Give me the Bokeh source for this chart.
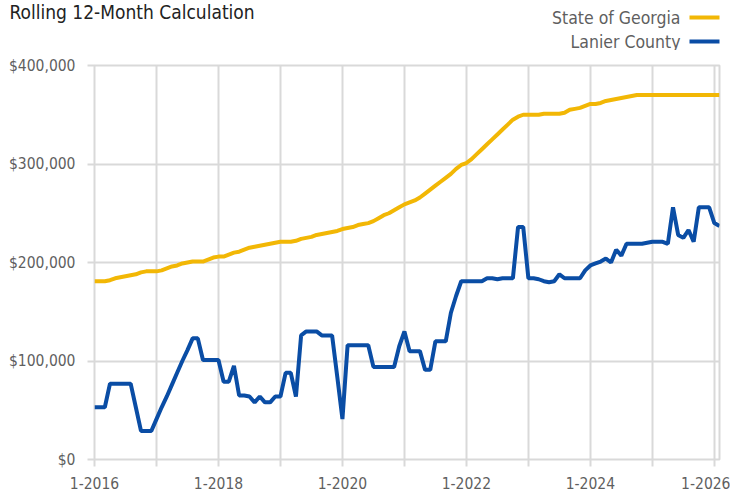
from bokeh.plotting import figure
from bokeh.layouts import column
from bokeh.models import FixedTicker, Label, NumeralTickFormatter
from bokeh.embed import file_html
from bokeh.resources import INLINE

FONT = "DejaVu Sans Condensed"

start_year = 2016
georgia = [
    181, 181, 181, 182, 184, 185, 186, 187, 188, 190, 191, 191,
    191, 192, 194, 196, 197, 199, 200, 201, 201, 201, 203, 205,
    206, 206, 208, 210, 211, 213, 215, 216, 217, 218, 219, 220,
    221, 221, 221, 222, 224, 225, 226, 228, 229, 230, 231, 232,
    234, 235, 236, 238, 239, 240, 242, 245, 248, 250, 253, 256,
    259, 261, 263, 266, 270, 274, 278, 282, 286, 290, 295, 299,
    301, 305, 310, 315, 320, 325, 330, 335, 340, 345, 348, 350,
    350, 350, 350, 351, 351, 351, 351, 352, 355, 356, 357, 359,
    361, 361, 362, 364, 365, 366, 367, 368, 369, 370, 370, 370,
    370, 370, 370, 370, 370, 370, 370, 370, 370, 370, 370, 370,
    370, 370,
]
lanier = [
    53, 53, 53, 77, 77, 77, 77, 77, 53, 29, 29, 29,
    41, 53, 64, 76, 88, 100, 111, 123, 123, 101, 101, 101,
    101, 79, 79, 95, 65, 65, 64, 58, 64, 58, 58, 64,
    64, 88, 88, 64, 126, 130, 130, 130, 126, 126, 126, 84,
    41, 116, 116, 116, 116, 116, 94, 94, 94, 94, 94, 115,
    130, 110, 110, 110, 91, 91, 120, 120, 120, 149, 166, 181,
    181, 181, 181, 181, 184, 184, 183, 184, 184, 184, 236, 236,
    184, 184, 183, 181, 180, 181, 188, 184, 184, 184, 184, 192,
    197, 199, 201, 204, 200, 213, 207, 219, 219, 219, 219, 220,
    221, 221, 221, 219, 256, 228, 225, 233, 221, 256, 256, 256,
    240, 237,
]
series_names = ["State of Georgia", "Lanier County"]
title_text = "Rolling 12-Month Calculation"
year_ticks = list(range(2016, 2027))
tick_labels = {y: (f"1-{y}" if y % 2 == 0 else "") for y in year_ticks}
y_ticks = [0, 100000, 200000, 300000, 400000]

x = [start_year + i / 12 for i in range(len(georgia))]
g_vals = [v * 1000 for v in georgia]
l_vals = [v * 1000 for v in lanier]

GRID = "#d9d9d9"
GOLD = "#F2B705"
BLUE = "#0A4DA5"
TEXT = "#5f5f5f"

# ---- header (title + legend) ----
W = 730
HH = 50
h = figure(width=W, height=HH, output_backend="svg", toolbar_location=None,
           x_range=(0, W), y_range=(0, HH), min_border=0,
           x_axis_location=None, y_axis_location=None)
h.frame_align = False
h.grid.visible = False
h.outline_line_color = None
h.add_layout(Label(x=9, y=39, text=title_text, text_font=FONT, text_font_size="19px",
                   text_color="#222222", text_baseline="middle"))
for (yy, c, name) in ((33, GOLD, series_names[0]), (9, BLUE, series_names[1])):
    h.add_layout(Label(x=680, y=yy, text=name, text_font=FONT, text_font_size="17.5px",
                       text_color=TEXT, text_align="right", text_baseline="middle"))
    h.line([689, 719], [yy, yy], line_color=c, line_width=4)

# ---- chart ----
p = figure(width=W, height=441, output_backend="svg", toolbar_location=None,
           x_range=(2016, 2016 + 121 / 12), y_range=(0, 400000),
           min_border_left=94, min_border_right=11, min_border_top=15, min_border_bottom=32)
p.frame_align = False
p.outline_line_color = GRID
p.outline_line_width = 2
p.background_fill_color = "white"
p.border_fill_color = "white"

p.line(x, g_vals, line_color=GOLD, line_width=4)
p.line(x, l_vals, line_color=BLUE, line_width=4)

p.xaxis.ticker = FixedTicker(ticks=year_ticks)
p.xaxis.major_label_overrides = tick_labels
p.yaxis.ticker = FixedTicker(ticks=y_ticks)
p.yaxis.formatter = NumeralTickFormatter(format="$0,0")
p.xgrid.ticker = FixedTicker(ticks=year_ticks)
p.ygrid.ticker = FixedTicker(ticks=y_ticks)
for g in (p.xgrid, p.ygrid):
    g.grid_line_color = GRID
    g.grid_line_width = 2
for ax in (p.xaxis, p.yaxis):
    ax.axis_line_color = None
    ax.major_tick_line_color = GRID
    ax.major_tick_line_width = 2
    ax.major_tick_out = 7
    ax.major_tick_in = 0
    ax.minor_tick_line_color = None
    ax.major_label_text_font = FONT
    ax.major_label_text_font_size = "15.5px"
    ax.major_label_text_color = TEXT
p.xaxis.major_label_standoff = 10
p.yaxis.major_label_standoff = 12

layout = column(h, p, spacing=0)
open("out.html", "w").write(file_html(layout, INLINE))
